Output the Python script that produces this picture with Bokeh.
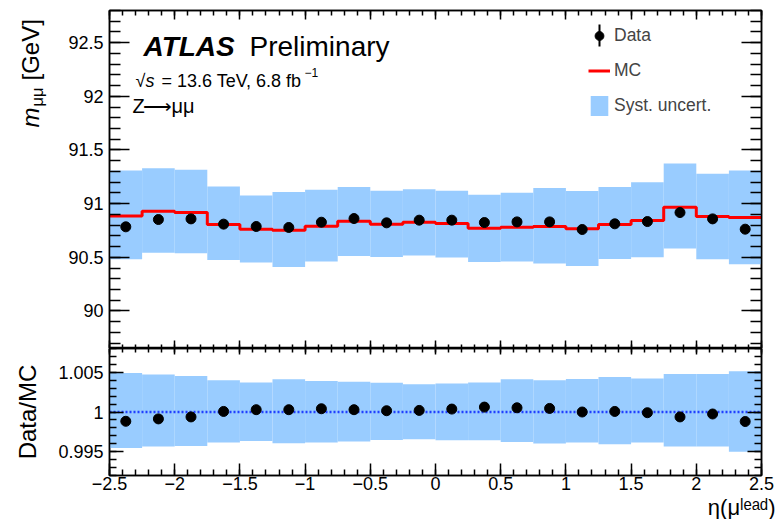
import numpy as np
from bokeh.plotting import figure
from bokeh.models import (FixedTicker, LinearAxis, Range1d, Label, Legend, Span,
                          CustomLabelingPolicy, BoxAnnotation, Title)
from bokeh.layouts import column, row
from bokeh.embed import file_html
from bokeh.resources import INLINE

# ---------------- data ----------------
eta_lo = [-2.5, -2.25, -2.0, -1.75, -1.5, -1.25, -1.0, -0.75, -0.5, -0.25,
          0.0, 0.25, 0.5, 0.75, 1.0, 1.25, 1.5, 1.75, 2.0, 2.25]
eta_hi = [-2.25, -2.0, -1.75, -1.5, -1.25, -1.0, -0.75, -0.5, -0.25, 0.0,
          0.25, 0.5, 0.75, 1.0, 1.25, 1.5, 1.75, 2.0, 2.25, 2.5]
eta_center = [-2.375, -2.125, -1.875, -1.625, -1.375, -1.125, -0.875, -0.625, -0.375, -0.125,
              0.125, 0.375, 0.625, 0.875, 1.125, 1.375, 1.625, 1.875, 2.125, 2.375]

data_mass = [90.784, 90.852, 90.858, 90.809, 90.787, 90.778, 90.827, 90.861, 90.821, 90.846,
             90.846, 90.824, 90.830, 90.830, 90.759, 90.812, 90.833, 90.917, 90.858, 90.762]
mc_mass = [90.886, 90.929, 90.917, 90.806, 90.762, 90.753, 90.790, 90.836, 90.808, 90.827,
           90.815, 90.771, 90.781, 90.787, 90.765, 90.806, 90.843, 90.966, 90.880, 90.870]
syst_up = [91.309, 91.330, 91.315, 91.160, 91.077, 91.108, 91.130, 91.154, 91.120, 91.133,
           91.120, 91.083, 91.102, 91.145, 91.117, 91.154, 91.200, 91.373, 91.278, 91.309]
syst_down = [90.481, 90.543, 90.537, 90.475, 90.451, 90.410, 90.460, 90.512, 90.503, 90.516,
             90.497, 90.457, 90.460, 90.442, 90.420, 90.484, 90.500, 90.583, 90.481, 90.435]

ratio = [0.99883, 0.99913, 0.99938, 1.00007, 1.00029, 1.00029, 1.00041, 1.00029, 1.00016, 1.00020,
         1.00037, 1.00062, 1.00053, 1.00045, 1.00000, 1.00007, 0.99991, 0.99938, 0.99975, 0.99880]
ratio_up = [1.00491, 1.00471, 1.00454, 1.00400, 1.00372, 1.00413, 1.00392, 1.00380, 1.00367, 1.00351,
            1.00360, 1.00372, 1.00413, 1.00400, 1.00417, 1.00442, 1.00422, 1.00479, 1.00479, 1.00512]
ratio_down = [0.99545, 0.99566, 0.99573, 0.99615, 0.99635, 0.99607, 0.99615, 0.99628, 0.99648, 0.99656,
              0.99644, 0.99644, 0.99623, 0.99603, 0.99615, 0.99594, 0.99615, 0.99566, 0.99566, 0.99499]

x_ticks = [-2.5, -2.0, -1.5, -1.0, -0.5, 0.0, 0.5, 1.0, 1.5, 2.0, 2.5]
x_tick_labels = ["\u22122.5", "\u22122", "\u22121.5", "\u22121", "\u22120.5", "0", "0.5", "1", "1.5", "2", "2.5"]
y1_ticks = [90.0, 90.5, 91.0, 91.5, 92.0, 92.5]
y1_tick_labels = ["90", "90.5", "91", "91.5", "92", "92.5"]
y2_ticks = [0.995, 1.0, 1.005]
y2_tick_labels = ["0.995", "1", "1.005"]

x_minor = [round(-2.5 + 0.1 * i, 3) for i in range(51)]
y1_minor = [round(89.7 + 0.1 * i, 3) for i in range(32)]
y2_minor = [round(0.992 + 0.001 * i, 4) for i in range(17)]

FONT = "Liberation Sans"
BAND = "#99ccff"

# page geometry (pixels)
W, H = 780, 522
TW = 53                 # width of the y-title strip left of the top panel
FL, FR = 109, 761       # frame left / right
T1, B1 = 10, 348        # top panel frame
B2 = 475                # bottom panel frame bottom


def make_axis(major, minor, labels, maj_in, min_in, show, standoff=6):
    ax = LinearAxis(ticker=FixedTicker(ticks=major, minor_ticks=minor))
    ax.major_tick_in = maj_in
    ax.major_tick_out = 0
    ax.minor_tick_in = min_in
    ax.minor_tick_out = 0
    ax.axis_line_color = "black"
    ax.axis_line_width = 1.5
    ax.major_tick_line_width = 1.5
    ax.minor_tick_line_width = 1.5
    ax.major_tick_line_color = "black"
    ax.minor_tick_line_color = "black"
    if show:
        ax.major_label_overrides = dict(zip(major, labels))
        ax.major_label_text_font = FONT
        ax.major_label_text_font_size = "18px"
        ax.major_label_text_color = "black"
        ax.major_label_standoff = standoff
    else:
        ax.major_label_policy = CustomLabelingPolicy(code="return []")
        ax.major_label_text_font_size = "0px"
        ax.major_label_standoff = 0
    return ax


def lab(p, text, px, py, ox, oy, size, style="normal", align="left",
        baseline="alphabetic", angle=0.0):
    # px, py: page pixels; ox: page x of the frame's left; oy: page y of the frame's bottom
    p.add_layout(Label(x=px - ox, y=oy - py, x_units="screen", y_units="screen",
                       text=text, text_font=FONT, text_font_size=f"{size}px",
                       text_font_style=style, text_align=align, text_baseline=baseline,
                       angle=angle, text_color="black"))


def style(p):
    p.xgrid.visible = False
    p.ygrid.visible = False
    p.outline_line_color = "black"
    p.outline_line_width = 1.5
    p.background_fill_color = "white"
    p.border_fill_color = "white"


x_range = Range1d(-2.5, 2.5)

# ---------------- top panel ----------------
p1 = figure(frame_width=FR - FL, frame_height=B1 - T1, x_range=x_range,
            y_range=Range1d(89.65, 92.8), output_backend="svg", toolbar_location=None,
            min_border_left=FL - TW, min_border_right=W - FR, min_border_top=T1,
            min_border_bottom=0, x_axis_location=None, y_axis_location=None)
style(p1)
p1.add_layout(make_axis(y1_ticks, y1_minor, y1_tick_labels, 20, 11, True), "left")
p1.add_layout(make_axis(y1_ticks, y1_minor, y1_tick_labels, 20, 11, False), "right")
p1.add_layout(make_axis(x_ticks, x_minor, x_tick_labels, 9, 5, False), "above")
p1.add_layout(make_axis(x_ticks, x_minor, x_tick_labels, 8, 4, False), "below")

r_band = p1.quad(left=eta_lo, right=eta_hi, bottom=syst_down, top=syst_up,
                 fill_color=BAND, line_color=None)
r_mc = p1.step(x=eta_lo + [eta_hi[-1]], y=mc_mass + [mc_mass[-1]], mode="after",
               line_color="#ff0000", line_width=3)
r_data = p1.scatter(x=eta_center, y=data_mass, size=10, marker="circle",
                    fill_color="black", line_color="black")

legend = Legend(items=[("Data", [r_data]), ("MC", [r_mc]), ("Syst. uncert.", [r_band])],
                location=(588 - FL, B1 - 117.5), padding=0, margin=0, spacing=10,
                glyph_width=22, glyph_height=25, label_height=25, label_standoff=4,
                label_text_font=FONT, label_text_font_size="17.5px",
                border_line_alpha=0, background_fill_alpha=0)
p1.add_layout(legend)
# vertical error-bar stroke of the legend's data marker
p1.add_layout(BoxAnnotation(left=598 - FL, right=600 - FL, bottom=B1 - 46, top=B1 - 24,
                            left_units="screen", right_units="screen",
                            bottom_units="screen", top_units="screen",
                            fill_color="black", fill_alpha=1.0, line_alpha=0))

# texts in the top panel
lab(p1, "ATLAS", 143, 46, FL, B1, 28, style="bold italic")
lab(p1, "Preliminary", 249, 46, FL, B1, 28)
lab(p1, "\u221a", 135, 80, FL, B1, 18)
lab(p1, "s", 145, 80, FL, B1, 18, style="italic")
lab(p1, "= 13.6 TeV, 6.8 fb", 161, 80, FL, B1, 18)
lab(p1, "\u22121", 304, 72, FL, B1, 12)
lab(p1, "Z", 132, 105, FL, B1, 20)
lab(p1, "\u27f6", 142, 105, FL, B1, 20)
lab(p1, "\u03bc\u03bc", 171, 105, FL, B1, 20)

# y-axis title of the top panel (rotated, reads bottom to top), in a strip left of it
t1 = figure(frame_width=TW, frame_height=B1, x_range=Range1d(0, 1), y_range=Range1d(0, 1),
            output_backend="svg", toolbar_location=None, title=None, min_border=0,
            min_border_left=0, min_border_right=0, min_border_top=0, min_border_bottom=0,
            x_axis_location=None, y_axis_location=None)
t1.outline_line_color = None
t1.xgrid.visible = False
t1.ygrid.visible = False
t1.border_fill_color = "white"
lab(t1, "m", 30, 117, 0, B1, 24, style="italic", baseline="middle", angle=np.pi / 2)
lab(t1, "\u03bc\u03bc", 36, 96, 0, B1, 16.5, baseline="middle", angle=np.pi / 2)
lab(t1, "[GeV]", 30, 70, 0, B1, 24, baseline="middle", angle=np.pi / 2)

# ---------------- bottom panel ----------------
p2 = figure(frame_width=FR - FL, frame_height=B2 - B1, x_range=x_range,
            y_range=Range1d(0.992, 1.008), output_backend="svg", toolbar_location=None,
            min_border_left=FL, min_border_right=W - FR, min_border_top=0,
            min_border_bottom=0, x_axis_location=None, y_axis_location=None)
style(p2)
ax_l = make_axis(y2_ticks, y2_minor, y2_tick_labels, 14, 7, True)
ax_l.axis_label = "Data/MC"
ax_l.axis_label_text_font = FONT
ax_l.axis_label_text_font_size = "24px"
ax_l.axis_label_text_font_style = "normal"
ax_l.axis_label_text_color = "black"
ax_l.axis_label_standoff = 14
p2.add_layout(ax_l, "left")
p2.add_layout(make_axis(y2_ticks, y2_minor, y2_tick_labels, 14, 7, False), "right")
p2.add_layout(make_axis(x_ticks, x_minor, x_tick_labels, 6, 4, False), "above")
p2.add_layout(make_axis(x_ticks, x_minor, x_tick_labels, 12, 6, True, standoff=1), "below")
p2.add_layout(Title(text="\u03b7(\u03bc\u02e1\u1d49\u1d43\u1d48)", align="right",
                    text_font=FONT, text_font_size="22px", text_font_style="normal",
                    text_color="black", standoff=0, offset=-14), "below")

p2.quad(left=eta_lo, right=eta_hi, bottom=ratio_down, top=ratio_up,
        fill_color=BAND, line_color=None, level="image")
p2.add_layout(Span(location=1.0, dimension="width", line_color="#1f3fff", line_width=2.5,
                   line_dash="2 2", level="underlay"))
p2.scatter(x=eta_center, y=ratio, size=10, marker="circle",
           fill_color="black", line_color="black")

layout = column(row(t1, p1, spacing=0), p2, spacing=0)
open("out.html", "w").write(file_html(layout, INLINE))
